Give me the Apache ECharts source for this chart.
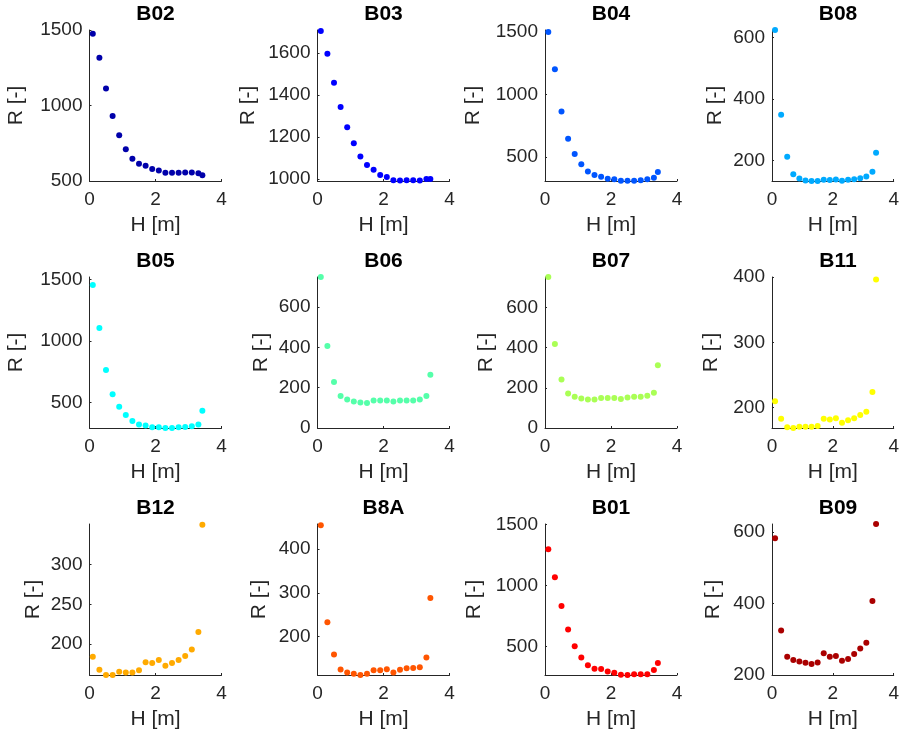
<!DOCTYPE html>
<html><head><meta charset="utf-8">
<script src="https://cdn.jsdelivr.net/npm/echarts@6/dist/echarts.min.js"></script>
<style>html,body{margin:0;padding:0;background:#fff}#c{width:902px;height:740px}</style>
</head><body><div id="c"></div>
<script>
// ---- data ----
const H = [0.1,0.3,0.5,0.7,0.9,1.1,1.3,1.5,1.7,1.9,2.1,2.3,2.5,2.7,2.9,3.1,3.3,3.42];
const bands = ['B02','B03','B04','B08','B05','B06','B07','B11','B12','B8A','B01','B09'];
const rB02 = [1475,1316,1113,931,803,711,648,615,601,579,570,554,554,554,556,556,552,538];
const rB03 = [1705,1597,1459,1343,1246,1170,1107,1066,1044,1019,1009,994,992,994,994,992,1000,1000];
const rB04 = [1500,1201,865,648,526,444,386,357,344,328,323,312,312,312,315,323,336,381];
const rB08 = [625,349,212,155,141,135,133,133,137,136,138,134,137,139,142,148,163,225];
const rB05 = [1455,1106,766,568,467,400,351,323,315,302,302,295,296,302,304,310,323,435];
const rB06 = [750,407,229,159,141,132,127,124,136,136,136,132,136,136,137,141,159,265];
const rB07 = [752,418,242,172,156,147,142,142,149,149,149,145,152,156,156,161,176,313];
const rB11 = [210,183,170,169,171,171,171,172,183,182,184,177,181,184,189,194,224,396];
const rB12 = [184,167.5,161,161,165,164,164,167,177,176,180,172.5,176,180,185,193,215,350];
const rB8A = [455,232,158,123.5,117,114,111,114,122,122,124,117,123,126.5,127,129,151,288];
const rB01 = [1297,1067,831,640,503,410,347,319,316,295,286,270,267,273,273,273,308,366];
const rB09 = [583,325,251,242,237.5,234,231,235,261,251,253,240,245,259,274,290,407,623];
const xTicks = [0,2,4];
const yTicks = [
  [500,1000,1500],[1000,1200,1400,1600],[500,1000,1500],[200,400,600],
  [500,1000,1500],[0,200,400,600],[0,200,400,600],[200,300,400],
  [200,250,300],[200,300,400],[500,1000,1500],[200,400,600]
];
const yMin = [500,990,310,133,295,0,0,169,161,111,267,200];
const yMax = [1500,1710,1515,625,1520,750,752,400,351,458,1503,623];
const bandColors = ['#0000AA','#0000FF','#0055FF','#00AAFF','#00FFFF','#55FFAA','#AAFF55','#FFFF00','#FFAA00','#FF5500','#FF0000','#AA0000'];
const series = [rB02,rB03,rB04,rB08,rB05,rB06,rB07,rB11,rB12,rB8A,rB01,rB09];

// ---- layout ----
const FONT = "'Liberation Sans', Arial, Helvetica, sans-serif";
const AX = '#262626';
const colLeft = [89.5, 317.5, 545, 772];
const rowTop = [30, 277, 524];
const W = 132, HGT = 151;
const yNameGap = [63, 59, 61, 46, 63, 46, 48, 50, 46, 48, 60, 48];
const plain = v => String(v);

const grids = [], xAxes = [], yAxes = [], sers = [], titles = [];
bands.forEach((b, i) => {
  const r = Math.floor(i / 4), c = i % 4;
  grids.push({left: colLeft[c], top: rowTop[r], width: W, height: HGT, containLabel: false});
  xAxes.push({
    gridIndex: i, type: 'value', min: xTicks[0], max: xTicks[xTicks.length - 1], interval: xTicks[1] - xTicks[0],
    name: 'H [m]', nameLocation: 'middle', nameGap: 34,
    nameTextStyle: {fontFamily: FONT, fontSize: 21, color: AX},
    axisLine: {show: true, lineStyle: {color: AX, width: 1}},
    axisTick: {show: true, inside: true, length: 2, lineStyle: {color: AX}},
    axisLabel: {fontFamily: FONT, fontSize: 19, color: AX, margin: 9, formatter: plain},
    splitLine: {show: false}
  });
  yAxes.push({
    gridIndex: i, type: 'value', min: yMin[i], max: yMax[i],
    name: 'R [-]', nameLocation: 'middle', nameRotate: 90, nameGap: yNameGap[i],
    nameTextStyle: {fontFamily: FONT, fontSize: 21, color: AX},
    axisLine: {show: true, onZero: false, lineStyle: {color: AX, width: 1}},
    axisTick: {show: true, inside: true, length: 2, lineStyle: {color: AX}, customValues: yTicks[i]},
    axisLabel: {fontFamily: FONT, fontSize: 19, color: AX, margin: 7, customValues: yTicks[i], formatter: plain},
    splitLine: {show: false}
  });
  sers.push({
    type: 'scatter', xAxisIndex: i, yAxisIndex: i, symbolSize: 6,
    itemStyle: {color: bandColors[i], opacity: 1},
    data: H.map((h, j) => [h, series[i][j]]), silent: true, animation: false
  });
  titles.push({
    text: b, left: colLeft[c] + W / 2, top: rowTop[r] - 26, textAlign: 'center', padding: 0,
    textStyle: {fontFamily: FONT, fontSize: 21, fontWeight: 'bold', color: '#000'}
  });
});

const chart = echarts.init(document.getElementById('c'), null, {renderer: 'canvas'});
chart.setOption({
  animation: false, backgroundColor: '#fff',
  title: titles, grid: grids, xAxis: xAxes, yAxis: yAxes, series: sers
});
</script></body></html>
